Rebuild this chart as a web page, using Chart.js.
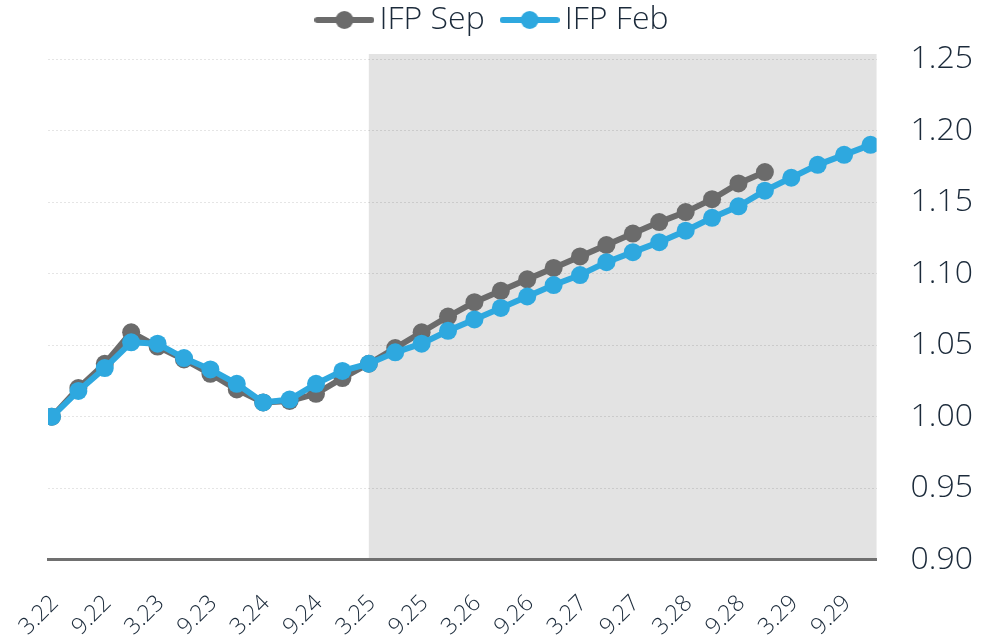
<!DOCTYPE html>
<html lang="en">
<head>
<meta charset="UTF-8">
<title>IFP Sep vs IFP Feb</title>
<script src="https://cdn.jsdelivr.net/npm/chart.js@4.4.1/dist/chart.umd.min.js"></script>
<style>
  html, body { margin: 0; padding: 0; background: #fff; }
  #wrap { width: 982px; height: 637px; }
</style>
</head>
<body>
<div id="wrap"><canvas id="myChart"></canvas></div>
<script>
// quarterly periods (month.year)
const periods = ['3.22','6.22','9.22','12.22','3.23','6.23','9.23','12.23',
                 '3.24','6.24','9.24','12.24','3.25','6.25','9.25','12.25',
                 '3.26','6.26','9.26','12.26','3.27','6.27','9.27','12.27',
                 '3.28','6.28','9.28','12.28','3.29','6.29','9.29','12.29'];
const ifpSep = [1.000, 1.020, 1.037, 1.059, 1.049, 1.040, 1.030, 1.019,
                1.010, 1.011, 1.016, 1.027, 1.037, 1.048, 1.059, 1.070,
                1.080, 1.088, 1.096, 1.104, 1.112, 1.120, 1.128, 1.136,
                1.143, 1.152, 1.163, 1.171, null, null, null, null];
const ifpFeb = [1.000, 1.018, 1.034, 1.052, 1.051, 1.041, 1.033, 1.023,
                1.010, 1.012, 1.023, 1.032, 1.037, 1.045, 1.051, 1.060,
                1.068, 1.076, 1.084, 1.092, 1.099, 1.108, 1.115, 1.122,
                1.130, 1.139, 1.147, 1.158, 1.167, 1.176, 1.183, 1.190];
const yTicks = [0.90, 0.95, 1.00, 1.05, 1.10, 1.15, 1.20, 1.25];
const forecastFrom = '3.25';

const grey = '#6b6b6b';
const blue = '#2ea8df';
const textColor = '#1b2a3a';
const fontFamily = '"Open Sans", "Noto Sans", sans-serif';

function toPoints(arr) {
    return arr.map((v, i) => ({ x: i, y: v }));
}

// legend marker: short line with a dot in the middle
function legendMarker(color) {
    const c = document.createElement('canvas');
    c.width = 60; c.height = 22;
    const g = c.getContext('2d');
    g.strokeStyle = color;
    g.lineWidth = 6;
    g.lineCap = 'round';
    g.beginPath(); g.moveTo(3, 11); g.lineTo(57, 11); g.stroke();
    g.fillStyle = color;
    g.beginPath(); g.arc(30, 11, 9, 0, Math.PI * 2); g.fill();
    return c;
}
const markers = [legendMarker(grey), legendMarker(blue)];

const shadePlugin = {
    id: 'shade',
    afterInit(chart) {
        // a bit more room between legend and plot, legend nudged left
        const lg = chart.legend;
        const fit = lg.fit.bind(lg);
        const draw = lg.draw.bind(lg);
        lg.fit = function () { fit(); this.height += 13; };
        lg.draw = function (area) {
            this.ctx.save();
            this.ctx.translate(-9, 0);
            draw(area);
            this.ctx.restore();
        };
    },
    beforeDraw(chart) {
        const { ctx, chartArea, scales } = chart;
        const x0 = scales.x.getPixelForValue(periods.indexOf(forecastFrom));
        ctx.save();
        ctx.fillStyle = '#e3e3e3';
        ctx.fillRect(x0, chartArea.top - 5, chartArea.right - x0, chartArea.bottom - chartArea.top + 5);
        ctx.restore();
    }
};

const ctx = document.getElementById('myChart').getContext('2d');
const myChart = new Chart(ctx, {
    type: 'line',
    data: {
        datasets: [{
            label: 'IFP Sep',
            data: toPoints(ifpSep),
            borderColor: grey,
            backgroundColor: grey,
            borderWidth: 6,
            pointRadius: 9,
            pointBorderWidth: 0,
            pointBackgroundColor: grey,
            tension: 0,
            order: 1
        }, {
            label: 'IFP Feb',
            data: toPoints(ifpFeb),
            borderColor: blue,
            backgroundColor: blue,
            borderWidth: 6,
            pointRadius: 9,
            pointBorderWidth: 0,
            pointBackgroundColor: blue,
            tension: 0,
            order: 0
        }]
    },
    options: {
        responsive: true,
        maintainAspectRatio: false,
        animation: false,
        spanGaps: false,
        layout: { padding: { left: 5, right: -25, top: -22, bottom: -34 } },
        plugins: {
            tooltip: { enabled: false },
            legend: {
                position: 'top',
                labels: {
                    usePointStyle: true,
                    pointStyleWidth: 38,
                    padding: 26,
                    color: textColor,
                    font: { family: fontFamily, size: 32, weight: '300' },
                    sort: (a, b) => a.datasetIndex - b.datasetIndex,
                    generateLabels(chart) {
                        const items = Chart.defaults.plugins.legend.labels.generateLabels(chart);
                        items.forEach(it => { it.pointStyle = markers[it.datasetIndex]; });
                        return items;
                    }
                }
            }
        },
        scales: {
            x: {
                type: 'linear',
                min: -0.15,
                max: 31.23,
                afterFit(scale) { scale.paddingLeft = 48; },
                grid: { display: false, drawTicks: false },
                border: { display: true, color: '#707070', width: 3 },
                ticks: {
                    stepSize: 2,
                    includeBounds: false,
                    autoSkip: false,
                    maxRotation: 45,
                    minRotation: 45,
                    padding: 30,
                    labelOffset: 3,
                    color: textColor,
                    font: { family: fontFamily, size: 23, weight: '300' },
                    callback: (v) => (Number.isInteger(v) && v % 2 === 0) ? periods[v] : ''
                }
            },
            y: {
                position: 'right',
                min: yTicks[0],
                max: yTicks[yTicks.length - 1],
                afterBuildTicks(scale) {
                    scale.ticks = yTicks.map(v => ({ value: v }));
                },
                grid: {
                    color: 'rgba(0,0,0,0.10)',
                    lineWidth: 1,
                    drawTicks: false
                },
                border: { display: false, dash: [2, 2] },
                ticks: {
                    padding: 34,
                    color: textColor,
                    font: { family: fontFamily, size: 32, weight: '300' },
                    callback: (v) => v.toFixed(2)
                }
            }
        }
    },
    plugins: [shadePlugin]
});
</script>
</body>
</html>
